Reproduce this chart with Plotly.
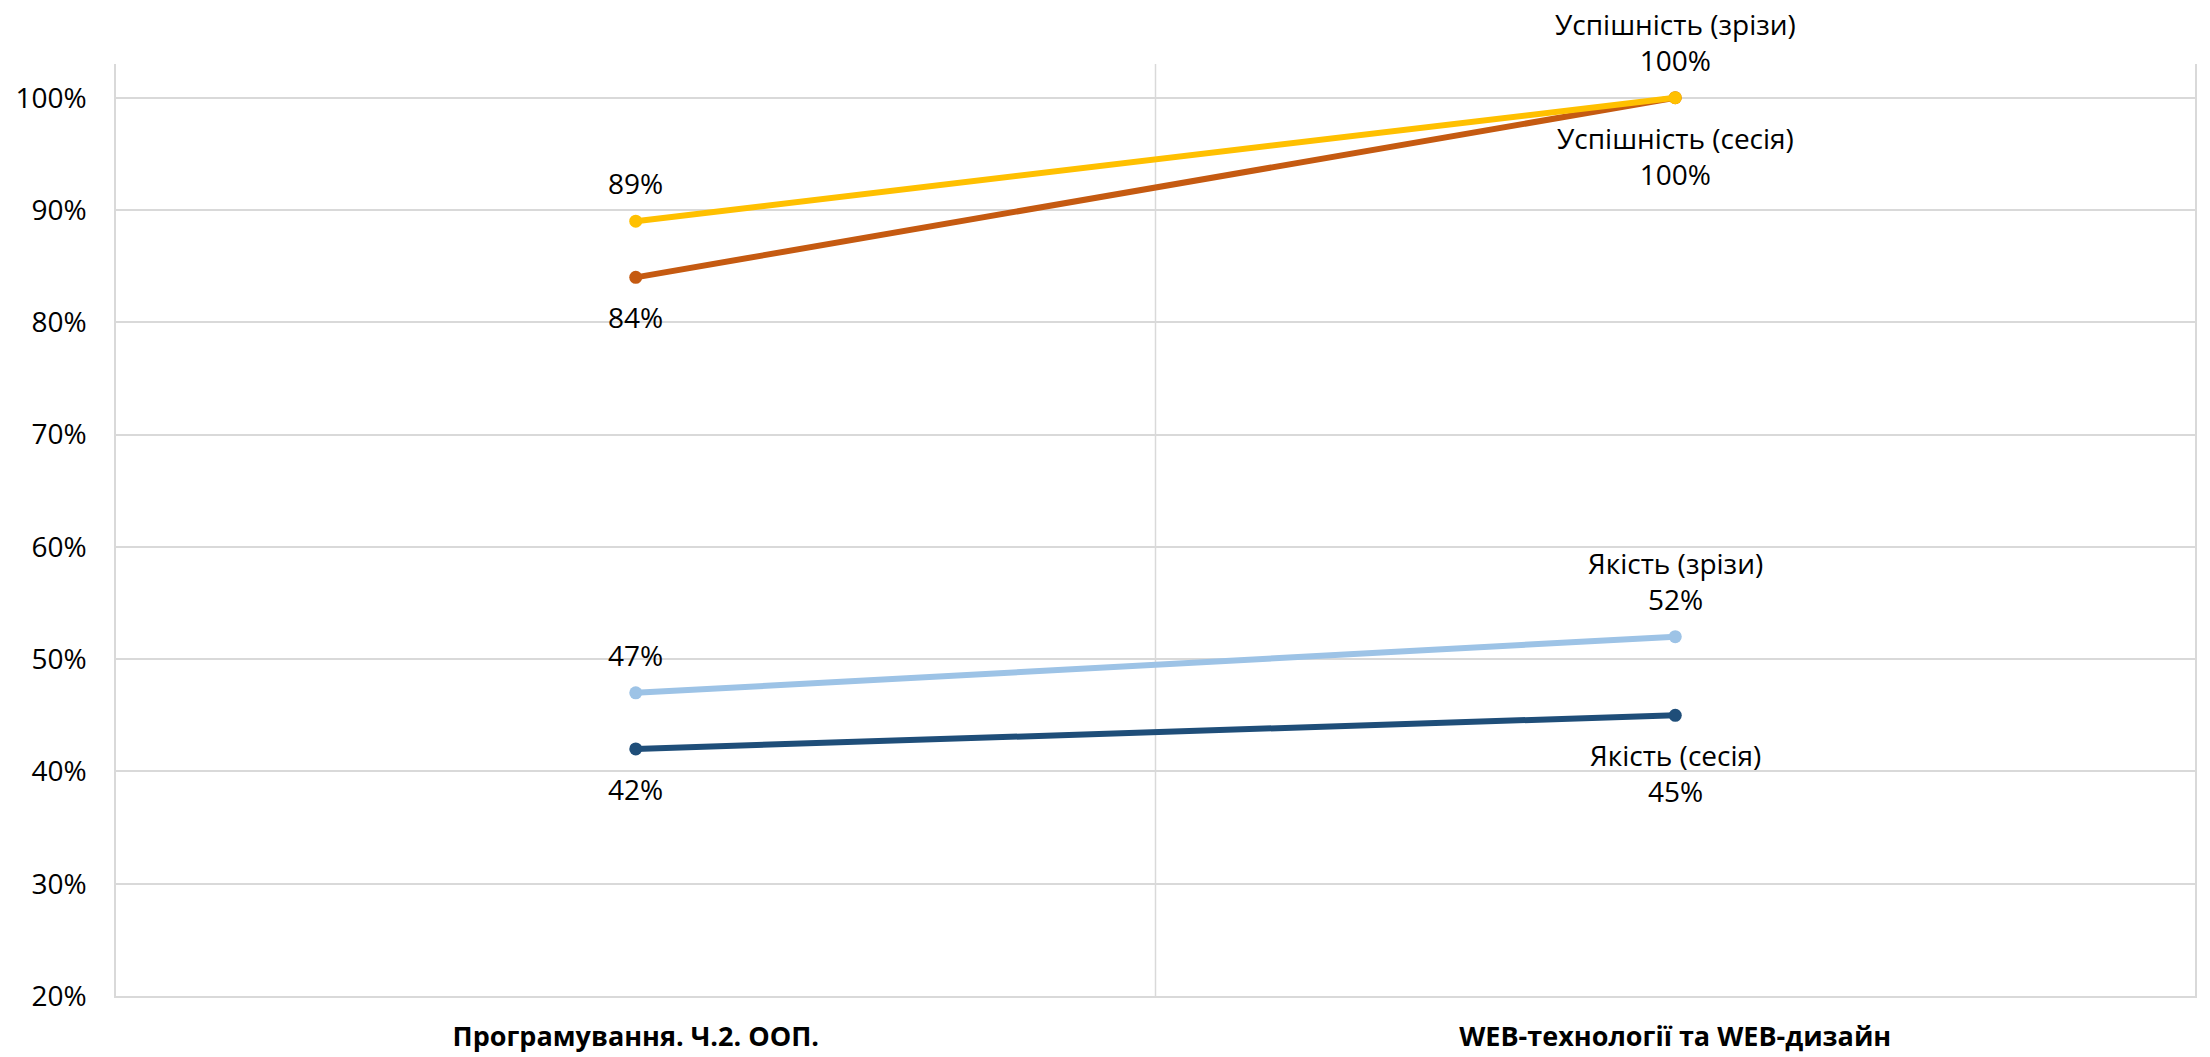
import plotly.graph_objects as go

# ---- data ----
categories = ["Програмування. Ч.2. ООП.", "WEB-технології та WEB-дизайн"]
series_names = ["Якість (сесія)", "Якість (зрізи)", "Успішність (сесія)", "Успішність (зрізи)"]
yakist_sesiya = [42, 45]
yakist_zrizy = [47, 52]
uspishnist_sesiya = [84, 100]
uspishnist_zrizy = [89, 100]
y_tick_values = [20, 30, 40, 50, 60, 70, 80, 90, 100]
y_tick_labels = ["20%", "30%", "40%", "50%", "60%", "70%", "80%", "90%", "100%"]

series_values = [yakist_sesiya, yakist_zrizy, uspishnist_sesiya, uspishnist_zrizy]
colors = ["#1F4E79", "#9DC3E6", "#C55A11", "#FFC000"]
label_above = [False, True, False, True]

FONT = "Open Sans, Calibri, Liberation Sans, sans-serif"
LABEL_SIZE = 28
GRID = "#D9D9D9"

fig = go.Figure()
for name, vals, col in zip(series_names, series_values, colors):
    fig.add_trace(go.Scatter(
        x=categories, y=vals, name=name, mode="lines+markers",
        line=dict(color=col, width=6),
        marker=dict(color=col, size=13),
        hoverinfo="skip", showlegend=False,
    ))

annotations = []
for name, vals, above in zip(series_names, series_values, label_above):
    for i, (cat, v) in enumerate(zip(categories, vals)):
        txt = f"{v}%"
        if i == len(vals) - 1:
            txt = f"{name}<br>{v}%"
        annotations.append(dict(
            x=cat, y=v, xref="x", yref="y", text=txt, showarrow=False,
            xanchor="center",
            yanchor="bottom" if above else "top",
            yshift=17 if above else -19,
            font=dict(family=FONT, size=LABEL_SIZE, color="#000000"),
        ))

shapes = [
    dict(type="line", xref="x", yref="paper", x0=0.5, x1=0.5, y0=0, y1=1,
         line=dict(color=GRID, width=1.5), layer="below"),
]

fig.update_layout(
    width=2210, height=1057,
    margin=dict(l=116, r=15, t=64, b=61),
    paper_bgcolor="white", plot_bgcolor="white",
    annotations=annotations, shapes=shapes,
    font=dict(family=FONT, size=LABEL_SIZE, color="#000000"),
)
fig.update_xaxes(
    type="category", range=[-0.5, 1.5], automargin=False,
    showgrid=False, showline=True, linecolor=GRID, linewidth=1.5,
    ticks="", ticklabelstandoff=16,
    tickfont=dict(family=FONT, size=27, color="#000000", weight="bold"),
    fixedrange=True,
)
fig.update_yaxes(
    range=[20, 103], tickvals=y_tick_values, ticktext=y_tick_labels,
    automargin=False,
    showgrid=True, gridcolor=GRID, gridwidth=1.5,
    showline=True, linecolor=GRID, linewidth=1.5, mirror=True,
    zeroline=False, ticks="", ticklabelstandoff=22,
    tickfont=dict(family=FONT, size=LABEL_SIZE, color="#000000"),
    fixedrange=True,
)

fig.write_html(
    "out.html",
    config={"displayModeBar": False},
    post_script="document.body.style.margin='0';document.body.style.overflow='hidden';",
)
